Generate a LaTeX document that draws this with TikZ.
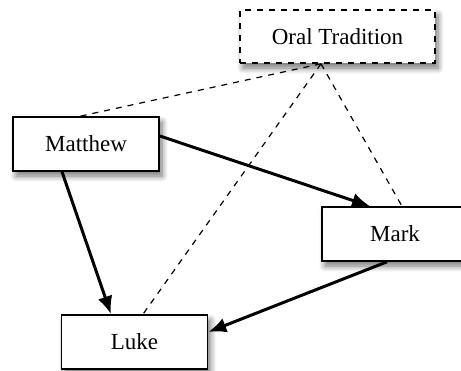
\documentclass[tikz,border=0pt]{standalone}
\usepackage{fontspec}
\setmainfont{Liberation Serif}
\usetikzlibrary{positioning, arrows.meta, shadows.blur}

\begin{document}
\begin{tikzpicture}[
      x=0.5pt, y=-0.5pt,
      every node/.style={font=\fontsize{11.5}{14}\selectfont},
      book/.style={draw, line width=0.8pt, fill=white, inner sep=0pt,
                   minimum width=73pt, minimum height=27pt,
                   blur shadow={shadow xshift=1.5pt, shadow yshift=-2.5pt,
                                shadow blur radius=3pt, shadow blur steps=8,
                                shadow opacity=55}},
      source/.style={book, dashed, minimum width=97.5pt, minimum height=26.5pt},
      link/.style={-{Latex[length=9pt,width=7.5pt]}, line width=1.5pt},
      oral/.style={dashed, line width=0.6pt},
    ]
    \useasboundingbox (0,0) rectangle (461,370);

    \node[source] (tradition) at (337.5,36.5) {Oral Tradition};
    \node[book] (matthew) at (86,144) {Matthew};
    \node[book] (mark) at (395,234) {Mark};
    \node[book] (luke) at (134.5,342) {Luke};

    % oral tradition feeds all three
    \coordinate (tip) at ([xshift=-8.25pt]tradition.south);
    \draw[oral] (tip) -- ([xshift=-3pt]matthew.north);
    \draw[oral] (tip) -- ([xshift=4.25pt]luke.north);
    \draw[oral] (tip) -- ([xshift=3.5pt]mark.north);

    \draw[link] ([yshift=4pt]matthew.east) -- ([xshift=-12.5pt]mark.north);
    \draw[link] ([xshift=-12pt]matthew.south) -- ([xshift=-11.75pt]luke.north);
    \draw[link] ([xshift=-4pt]mark.south) -- ([yshift=5pt]luke.east);
  \end{tikzpicture}
\end{document}
